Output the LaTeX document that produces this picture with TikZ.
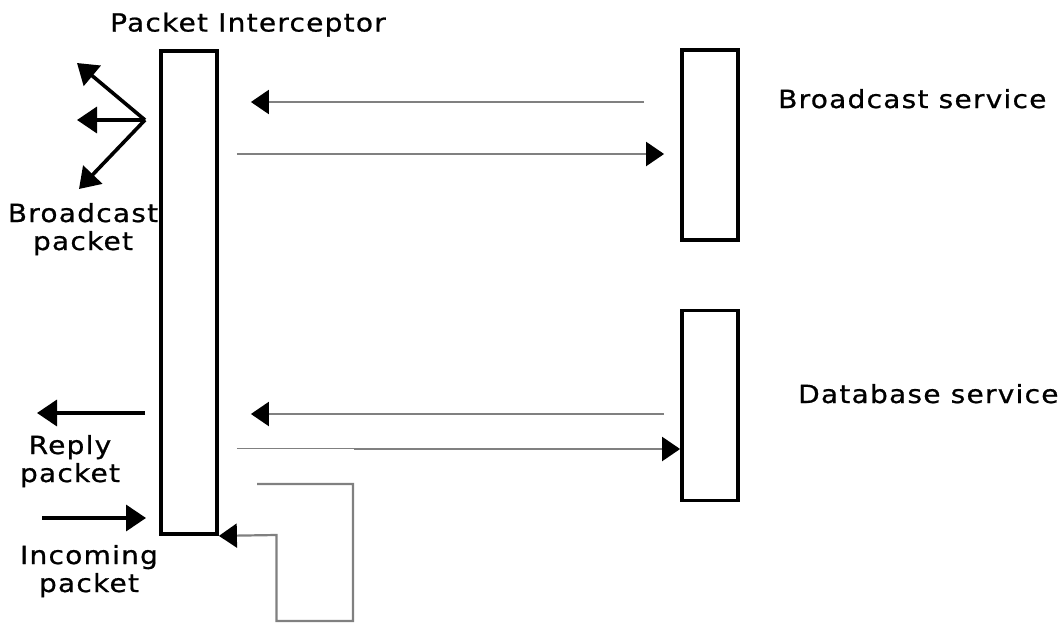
\documentclass[tikz,border=0pt]{standalone}
\usepackage{fontspec}
\setmainfont{DejaVu Sans}[LetterSpace=5,FakeStretch=1.12,FakeBold=0.8]
\usetikzlibrary{arrows.meta}
\begin{document}
\begin{tikzpicture}[x=1pt,y=-1pt,
  lifeline/.style={draw=black,line width=3.8pt,minimum width=56pt,inner sep=0pt},
  lbl/.style={font=\fontsize{25}{28}\selectfont,align=center,inner sep=0pt},
  garrow/.style={draw=black!50,line width=2.2pt,-{Triangle[length=18pt,width=24pt,color=black]}},
  barrow/.style={draw=black,line width=3.6pt,-{Triangle[length=20pt,width=26pt]}},
  gline/.style={draw=black!50,line width=1.3pt}]
\useasboundingbox (0,0) rectangle (1061,624);
% boxes
\node[lifeline,minimum height=483pt] (pi) at (189,292.5) {};
\node[lifeline,minimum height=190pt] (bs) at (710,145) {};
\node[lifeline,minimum height=190pt] (db) at (710,405.5) {};
% labels
\node[lbl,anchor=base] (piL) at (248,31.5) {Packet Interceptor};
\node[lbl,anchor=base west] (bsL) at (778,108) {Broadcast service};
\node[lbl,anchor=base west] (dbL) at (798,403) {Database service};
\node[lbl,anchor=base] (bpL) at (83,250) {Broadcast\\packet};
\node[lbl,anchor=base] (rpL) at (70,482) {Reply\\packet};
\node[lbl,anchor=base] (ipL) at (89,592) {Incoming\\packet};
% y levels
\coordinate (y1) at (0,102);
\coordinate (y2) at (0,154);
\coordinate (y3) at (0,414);
\coordinate (y4) at (0,449);
% service messages
\draw[garrow,shorten <=36pt,shorten >=32pt] (bs.west |- y1) -- (pi.east |- y1);
\draw[garrow,shorten <=18pt,shorten >=16pt] (pi.east |- y2) -- (bs.west |- y2);
\draw[garrow,shorten <=16pt,shorten >=32pt] (db.west |- y3) -- (pi.east |- y3);
\coordinate (jog) at (354,448.2);
\draw[gline,shorten <=18pt] (pi.east |- jog) -- (jog);
\draw[garrow] (jog |- y4) -- (db.west |- y4);
% self loop
\coordinate (s0) at (257,484);
\coordinate (s1) at (353,621);
\coordinate (s2) at (276.5,535);
\draw[garrow] (s0) -| (s1) -| (s2) -- (pi.south east);
% broadcast fan
\coordinate (fan) at (145,120);
\coordinate (f1) at (77,63);
\coordinate (f2) at (77,120);
\coordinate (f3) at (79,189);
\draw[barrow] (fan) -- (f1);
\draw[barrow] (fan) -- (f2);
\draw[barrow] (fan) -- (f3);
% reply / incoming
\coordinate (r0) at (145,413);
\coordinate (r1) at (37,413);
\coordinate (i0) at (42,518);
\coordinate (i1) at (146,518);
\draw[barrow] (r0) -- (r1);
\draw[barrow] (i0) -- (i1);
\end{tikzpicture}
\end{document}
